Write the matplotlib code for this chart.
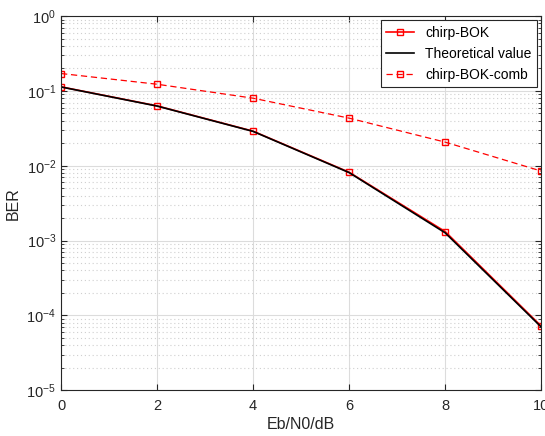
import numpy as np
import matplotlib.pyplot as plt
from matplotlib.ticker import LogLocator, NullFormatter

plt.rcParams['font.family'] = ['Liberation Sans', 'DejaVu Sans']
plt.rcParams['mathtext.fontset'] = 'custom'
plt.rcParams['mathtext.rm'] = 'Liberation Sans'

ebn0 = [0, 2, 4, 6, 8, 10]
ber_bok = [0.1135, 0.0632, 0.0290, 0.0082, 0.00132, 7.2e-5]
ber_theory = [0.1130, 0.0628, 0.0288, 0.0081, 0.00127, 7.0e-5]
ber_comb = [0.171, 0.123, 0.080, 0.0433, 0.0207, 0.0085]

fig = plt.figure(figsize=(5.45, 4.36), dpi=100)
ax = fig.add_axes([0.112, 0.105, 0.881, 0.858])

ax.semilogy(ebn0, ber_bok, 'r-s', lw=1.2, ms=5, mfc='none', mew=1.0, label='chirp-BOK')
ax.semilogy(ebn0, ber_theory, 'k-', lw=1.2, label='Theoretical value')
ax.semilogy(ebn0, ber_comb, 'r--s', lw=0.9, ms=5, mfc='none', mew=1.0,
            dashes=(5, 3), label='chirp-BOK-comb')

ax.set_xlim(0, 10)
ax.set_ylim(1e-5, 1)
ax.set_xticks(ebn0)
ax.yaxis.set_major_locator(LogLocator(base=10, numticks=10))
ax.yaxis.set_minor_locator(LogLocator(base=10, subs=np.arange(2, 10), numticks=10))
ax.yaxis.set_minor_formatter(NullFormatter())

ax.grid(True, which='major', color='#dcdcdc', lw=0.8, ls='-')
ax.grid(True, which='minor', axis='y', color='#cfcfcf', lw=0.8, ls=(0, (1, 2.5)))
ax.set_axisbelow(True)

ax.tick_params(which='both', direction='in', top=True, right=True,
               labelsize=10.5, colors='#262626')
ax.tick_params(which='major', length=4)
ax.tick_params(axis='x', pad=6)
ax.tick_params(which='minor', length=2.5)
for s in ax.spines.values():
    s.set_color('#262626')
    s.set_linewidth(0.8)

ax.set_xlabel('Eb/N0/dB', fontsize=11.5, color='#262626', labelpad=3)
ax.set_ylabel('BER', fontsize=11.5, color='#262626', labelpad=4)

leg = ax.legend(loc='upper right', fontsize=10, fancybox=False, framealpha=1,
                edgecolor='#262626', borderaxespad=0.3, handlelength=2.0,
                labelspacing=0.5)
leg.get_frame().set_linewidth(0.8)

fig.savefig('out.png', dpi=100)
